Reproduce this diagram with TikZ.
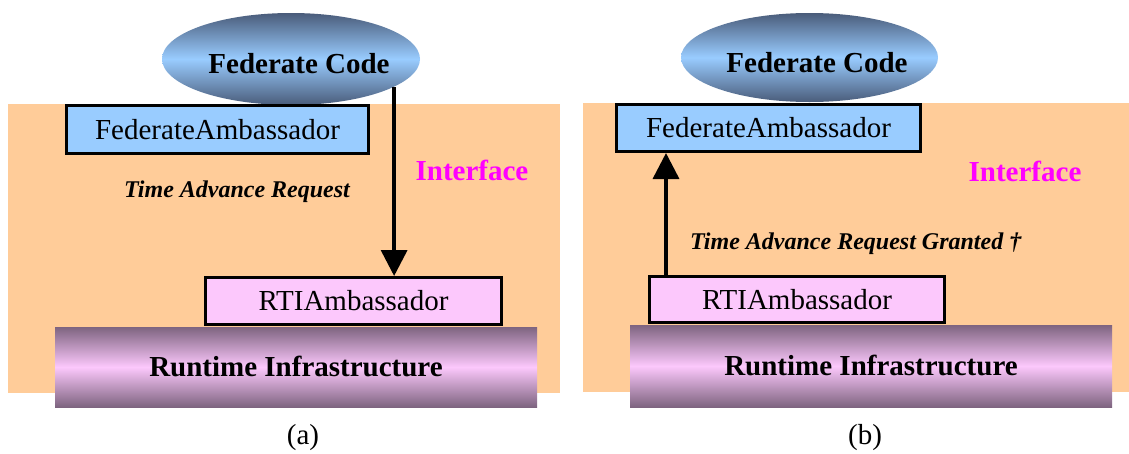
\documentclass[tikz,border=0pt]{standalone}
\usepackage{fontspec}
\setmainfont{Liberation Serif}
\usetikzlibrary{shapes.geometric,arrows.meta}

\definecolor{ifaceorange}{HTML}{FFCC99}
\definecolor{fedblue}{HTML}{99CCFF}
\definecolor{rtipink}{HTML}{FCC8FC}
\definecolor{rtidark}{HTML}{7E6480}
\definecolor{codedark}{HTML}{4A5C7A}
\definecolor{ifacemagenta}{HTML}{FF00FF}

\tikzset{
  big/.style={font=\fontsize{29}{34}\selectfont},
  small/.style={font=\fontsize{24}{28}\selectfont\bfseries\itshape},
  panel/.style={fill=ifaceorange, draw=none},
  codeblob/.style={ellipse, draw=none, inner sep=0pt, outer sep=0pt,
    top color=codedark, bottom color=codedark, middle color=fedblue},
  ambbox/.style={rectangle, draw=black, line width=3pt, inner sep=0pt,
    big, text height=19pt, text depth=0pt},
  fedbox/.style={ambbox, fill=fedblue},
  rtibox/.style={ambbox, fill=rtipink},
  infrabar/.style={rectangle, draw=none, inner sep=0pt, big, font=\fontsize{29}{34}\selectfont\bfseries,
    text height=19pt, text depth=0pt,
    top color=rtidark, bottom color=rtidark, middle color=rtipink},
  flow/.style={line width=3.5pt, -{Triangle[width=26pt,length=26pt]}},
  ifacelabel/.style={big, font=\fontsize{29}{34}\selectfont\bfseries, text=ifacemagenta, anchor=base, inner sep=0pt},
  calllabel/.style={small, anchor=base, inner sep=0pt},
  caption/.style={big, inner sep=0pt}
}

\begin{document}
\begin{tikzpicture}[x=1pt, y=-1pt]
\useasboundingbox (0,0) rectangle (1129,453);

% ---------- (a) request ----------
\fill[panel] (8,104) rectangle (560,393);
\node[codeblob, minimum width=258pt, minimum height=92pt] (fcA) at (291,59) {};
\node[big, font=\fontsize{29}{34}\selectfont\bfseries, inner sep=0pt, text height=19pt, text depth=0pt] (fcAtext) at (299,64) {Federate Code};
\node[fedbox, minimum width=302pt, minimum height=48pt] (fedA) at (217.5,129.5) {FederateAmbassador};
\node[rtibox, minimum width=296pt, minimum height=47pt] (rtiA) at (353.5,301) {RTIAmbassador};
\node[infrabar, minimum width=482pt, minimum height=80pt] (infraA) at (296,367) {Runtime Infrastructure};
\node[ifacelabel] (ifA) at (472,180) {Interface};
\node[calllabel] (tarA) at (237,197) {Time Advance Request};
\draw[flow] (fcA.-15.4) -- (fcA.-15.4 |- rtiA.north);
\node[caption] (capA) at (303,438) {(a)};

% ---------- (b) grant ----------
\fill[panel] (583,103) rectangle (1129,392);
\node[fedbox, minimum width=304pt, minimum height=47pt] (fedB) at (768.5,128) {FederateAmbassador};
\node[codeblob, minimum width=257pt, minimum height=89pt] (fcB) at (809.5,57.5) {};
\node[big, font=\fontsize{29}{34}\selectfont\bfseries, inner sep=0pt, text height=19pt, text depth=0pt] (fcBtext) at (817,63) {Federate Code};
\node[rtibox, minimum width=295pt, minimum height=46pt] (rtiB) at (797,299.5) {RTIAmbassador};
\node[infrabar, minimum width=482pt, minimum height=82pt] (infraB) at (871,366) {Runtime Infrastructure};
\node[ifacelabel] (ifB) at (1025,181) {Interface};
\node[calllabel, anchor=base west] (tarB) at (690,249) {Time Advance Request Granted †};
\draw[flow] ([xshift=18pt]rtiB.north west) -- ([xshift=18pt]rtiB.north west |- fedB.south);
\node[caption] (capB) at (865,438) {(b)};
\end{tikzpicture}
\end{document}
